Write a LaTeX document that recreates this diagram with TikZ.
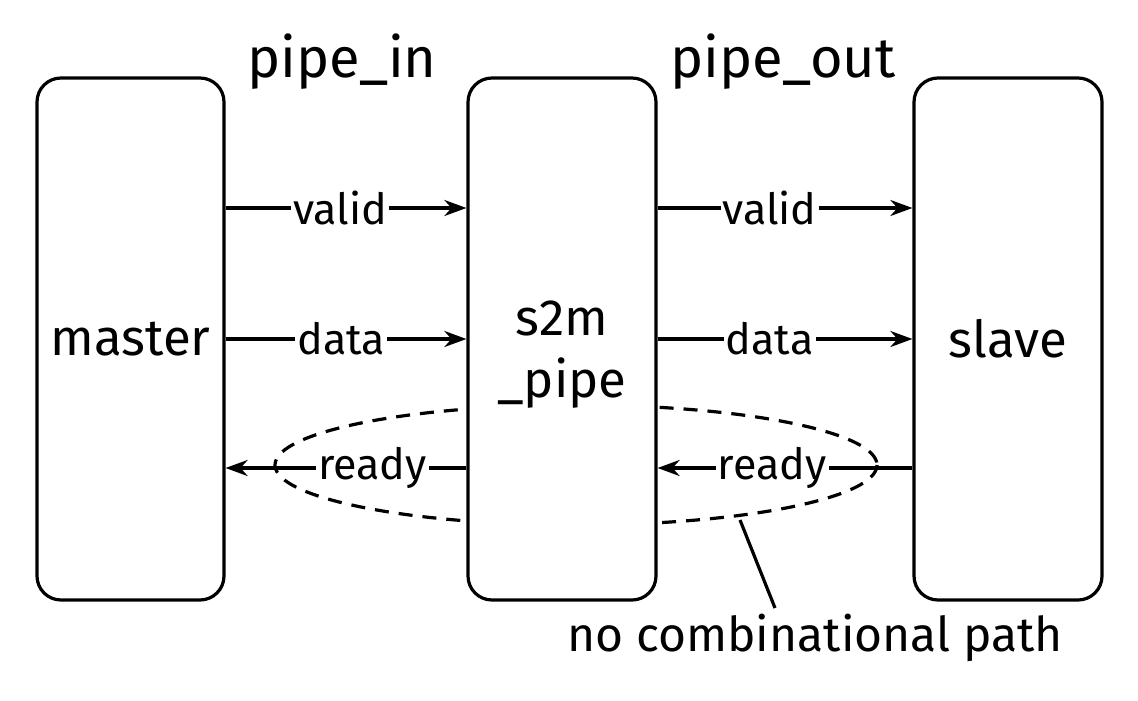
\documentclass[tikz,border=0pt]{standalone}
\usepackage{fontspec}
\setmainfont{Fira Sans}
\usetikzlibrary{arrows.meta}
\begin{document}
\begin{tikzpicture}[x=0.5pt,y=-0.5pt,
  blk/.style={draw,line width=1.6pt,rounded corners=12pt,fill=white},
  sig/.style={line width=1.6pt,-{Stealth[length=11pt,width=8pt,inset=3.5pt]}},
  lbl/.style={fill=white,inner sep=1pt,font=\fontsize{21.5}{24}\selectfont},
  big/.style={font=\fontsize{25.5}{30}\selectfont}]
\useasboundingbox (0,0) rectangle (1138,700);
\draw[line width=1.6pt,dash pattern=on 7pt off 5pt] (576,465) ellipse [x radius=301, y radius=60];
\node[blk,minimum width=93.5pt,minimum height=261pt] (m) at (130.5,339) {};
\node[blk,minimum width=94pt,minimum height=261pt] (p) at (562,339) {};
\node[blk,minimum width=94pt,minimum height=261pt] (s) at (1008,339) {};
\node[big] at (m.center) {master};
\node[big] at (s.center) {slave};
\node[big] at (562,318) {s2m};
\node[big] at (562,383) {\_pipe};
\node[font=\fontsize{28}{32}\selectfont] (pin) at (342,62) {pipe\_in};
\node[font=\fontsize{28}{32}\selectfont] (pout) at (783,62) {pipe\_out};
% left
\coordinate (a1) at (m.east |- 0,208); \coordinate (b1) at (p.west |- 0,208);
\coordinate (a2) at (m.east |- 0,339); \coordinate (b2) at (p.west |- 0,339);
\coordinate (a3) at (m.east |- 0,468); \coordinate (b3) at (p.west |- 0,468);
\draw[sig] (a1) -- node[lbl,pos=0.475]{valid} (b1);
\draw[sig] (a2) -- node[lbl,pos=0.48]{data} (b2);
\draw[sig] (b3) -- node[lbl,pos=0.39]{ready} (a3);
% right
\coordinate (c1) at (p.east |- 0,208); \coordinate (d1) at (s.west |- 0,208);
\coordinate (c2) at (p.east |- 0,339); \coordinate (d2) at (s.west |- 0,339);
\coordinate (c3) at (p.east |- 0,468); \coordinate (d3) at (s.west |- 0,468);
\draw[sig] (c1) -- node[lbl,pos=0.44]{valid} (d1);
\draw[sig] (c2) -- node[lbl,pos=0.44]{data} (d2);
\draw[sig] (d3) -- node[lbl,pos=0.55]{ready} (c3);
% note
\node[font=\fontsize{24}{28}\selectfont] (note) at (815,638) {no combinational path};
\coordinate (e) at (740,520);
\draw[line width=1.6pt] (e) -- (775,608);
\end{tikzpicture}
\end{document}
